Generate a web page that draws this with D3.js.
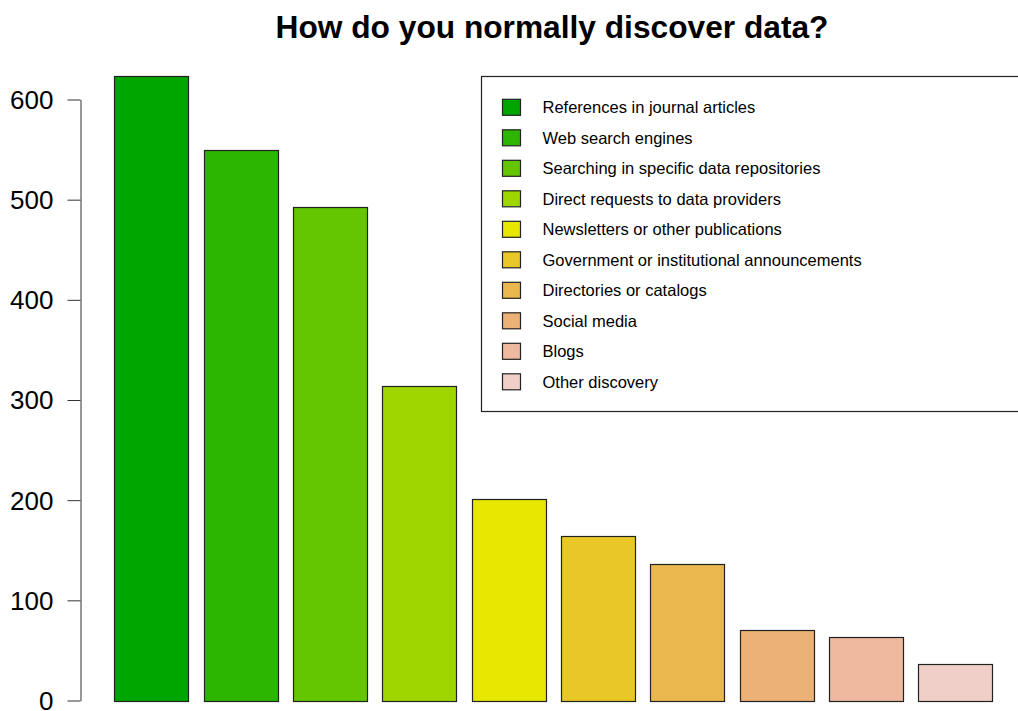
<!doctype html>
<html lang="en">
<head>
    <meta charset="utf-8">
    <title>How do you normally discover data?</title>
    <script src="https://d3js.org/d3.v7.min.js"></script>
    <style>
        body { margin: 0; background: #fff; }
        svg text { font-family: "Liberation Sans", Arial, Helvetica, sans-serif; fill: #000; }
    </style>
</head>
<body>
    <div id="chart"></div>

    <script>
        // data
        var categories = [
            "References in journal articles",
            "Web search engines",
            "Searching in specific data repositories",
            "Direct requests to data providers",
            "Newsletters or other publications",
            "Government or institutional announcements",
            "Directories or catalogs",
            "Social media",
            "Blogs",
            "Other discovery"
        ];
        var counts = [623, 550, 493, 314, 201, 164, 136, 70, 63, 36];
        var yTicks = [0, 100, 200, 300, 400, 500, 600];
        // terrain.colors(11), first ten
        var colors = ["#00A600", "#2DB600", "#63C600", "#A0D600", "#E6E600",
                      "#E8C727", "#EAB64E", "#ECB176", "#EEB99F", "#F0CFC8"];

        var width = 1018,
            height = 711;

        var svg = d3.select("#chart")
            .append("svg")
            .attr("width", width)
            .attr("height", height);

        var x = d3.scaleBand()
            .domain(categories)
            .range([106.9, 1000.2])
            .paddingInner(0.2 / 1.2)
            .paddingOuter(0.1 / 1.2);

        var y = d3.scaleLinear()
            .domain([0, 600])
            .range([700.5, 99.5]);

        var color = d3.scaleOrdinal()
            .domain(categories)
            .range(colors);

        // title
        svg.append("text")
            .attr("x", 552)
            .attr("y", 38)
            .attr("text-anchor", "middle")
            .style("font-size", "31.7px")
            .style("font-weight", "bold")
            .text("How do you normally discover data?");

        // bars
        svg.selectAll("rect.bar")
            .data(categories)
            .enter()
            .append("rect")
            .attr("class", "bar")
            .attr("x", function (d) { return Math.round(x(d)) + 0.5; })
            .attr("y", function (d, i) { return Math.round(y(counts[i])) + 0.5; })
            .attr("width", Math.round(x.bandwidth()))
            .attr("height", function (d, i) { return Math.round(y(0)) - Math.round(y(counts[i])); })
            .attr("fill", function (d) { return color(d); })
            .attr("stroke", "#222")
            .attr("stroke-width", 1.2);

        // y axis
        var yAxis = svg.append("g")
            .attr("transform", "translate(80.5,0)")
            .call(d3.axisLeft(y)
                .tickValues(yTicks)
                .tickSize(13)
                .tickSizeOuter(0)
                .tickPadding(14));
        yAxis.select(".domain").attr("stroke", "#333");
        yAxis.selectAll(".tick line").attr("stroke", "#333");
        yAxis.selectAll(".tick text")
            .attr("dy", "0.34em")
            .style("font-size", "26px")
            .style("font-family", "\"Liberation Sans\", Arial, Helvetica, sans-serif")
            .attr("fill", "#000");

        // legend
        var legend = svg.append("g");
        legend.append("rect")
            .attr("x", 481.5)
            .attr("y", 76.5)
            .attr("width", 600)
            .attr("height", 335)
            .attr("fill", "#fff")
            .attr("stroke", "#222")
            .attr("stroke-width", 1.2);

        var rows = legend.selectAll("g.row")
            .data(categories)
            .enter()
            .append("g")
            .attr("class", "row")
            .attr("transform", function (d, i) { return "translate(0," + (107.3 + i * 30.5) + ")"; });

        rows.append("rect")
            .attr("x", 502.5)
            .attr("y", -8)
            .attr("width", 18)
            .attr("height", 16)
            .attr("fill", function (d) { return color(d); })
            .attr("stroke", "#222")
            .attr("stroke-width", 1.2);

        rows.append("text")
            .attr("x", 542.5)
            .attr("y", 6)
            .style("font-size", "16.5px")
            .text(function (d) { return d; });
    </script>
</body>
</html>
